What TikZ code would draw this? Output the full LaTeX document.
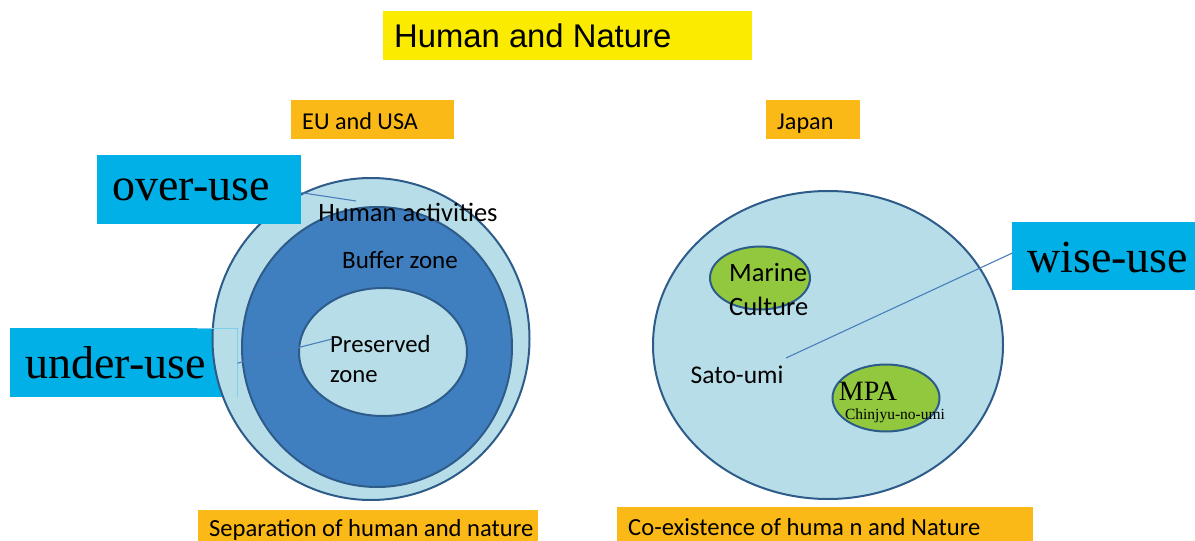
\documentclass[tikz,border=0pt]{standalone}
\usepackage{fontspec}
\setmainfont{Carlito}
\newfontfamily\arialf{Liberation Sans}
\newfontfamily\timesf{Liberation Serif}
\usetikzlibrary{shapes.geometric}
\definecolor{lightfill}{HTML}{B7DEE8}
\definecolor{ringblue}{HTML}{3F7EBF}
\definecolor{edgeblue}{HTML}{2E5C8A}
\definecolor{greenfill}{HTML}{92C83E}
\definecolor{cyanbox}{HTML}{00B0E6}
\definecolor{orangebox}{HTML}{FBB917}
\definecolor{yellowbox}{HTML}{FAEB00}
\definecolor{leader}{HTML}{4A7EBB}
\definecolor{faint}{HTML}{7FCFEA}
\begin{document}
\begin{tikzpicture}[x=1pt,y=-1pt,
  zone/.style={ellipse, draw=edgeblue, line width=2pt, inner sep=0pt},
  lbl/.style={font=\fontsize{25}{29}\selectfont, inner sep=0pt},
  tagbox/.style={fill=orangebox, anchor=north west, inner xsep=11pt, inner ysep=0pt, font=\fontsize{24.2}{27}\selectfont},
  usebox/.style={fill=cyanbox, anchor=north west, inner xsep=15pt, inner ysep=0pt, font=\timesf\fontsize{46}{50}\selectfont},
  leaderline/.style={draw=leader, line width=1.1pt}]
\useasboundingbox (0,0) rectangle (1195,541);
% title
\node[fill=yellowbox, anchor=north west, inner xsep=11pt, inner ysep=0pt, text height=36pt, text depth=13pt, font=\arialf\fontsize{32.8}{36}\selectfont] (title) at (383,11) {\makebox[347pt][l]{Human and Nature}};
% region tags
\node[tagbox, text height=29pt, text depth=10pt] (eu) at (291,100) {\makebox[141pt][l]{EU and USA}};
\node[tagbox, text height=29pt, text depth=10pt] (japan) at (766,100) {\makebox[72pt][l]{Japan}};
% under-use box lies below the left circle
\node[usebox, text height=50pt, text depth=19pt] (under) at (10,328) {\makebox[197pt][l]{under-use}};
% left circles
\node[zone, fill=lightfill, minimum width=317pt, minimum height=322pt] (outer) at (371,339) {};
\node[zone, fill=ringblue, minimum width=270pt, minimum height=280pt] (buffer) at (377,347) {};
\node[zone, fill=lightfill, minimum width=168pt, minimum height=128pt] (preserved) at (383,352) {};
\node[lbl, font=\fontsize{26.5}{30}\selectfont] (human) at (408,212) {Human activities};
\node[lbl] (bufferlbl) at (400,260) {Buffer zone};
\node[lbl, align=left, anchor=west, font=\fontsize{24.7}{30}\selectfont] (preslbl) at (330,359) {Preserved\\zone};
\draw[draw=faint, line width=0.7pt] (under.north east) ++(-40,0) -- (under.north east) -- (under.south east);
% right circles
\node[zone, fill=lightfill, minimum width=350pt, minimum height=308pt] (satoumi) at (828,345) {};
\node[zone, fill=greenfill, minimum width=100pt, minimum height=63pt] (marine) at (760,278) {};
\node[lbl, align=left, anchor=west, font=\fontsize{26.5}{34}\selectfont] (marinelbl) at (729,289) {Marine\\Culture};
\node[zone, fill=greenfill, minimum width=107pt, minimum height=67pt] (mpa) at (886,398) {};
\node[inner sep=0pt, font=\timesf\fontsize{28}{30}\selectfont] (mpalbl) at (868,391) {MPA};
\node[inner sep=0pt, font=\timesf\fontsize{15.5}{17}\selectfont] (chinjyu) at (895,416) {Chinjyu-no-umi};
\node[lbl, font=\fontsize{25.5}{29}\selectfont] (satolbl) at (737,375) {Sato-umi};
% use boxes
\node[usebox, text height=45pt, text depth=24pt] (over) at (97,155) {\makebox[174pt][l]{over-use}};
\node[usebox, text height=50pt, text depth=18pt] (wise) at (1012,222) {\makebox[200pt][l]{wise-use}};
% leader lines
\coordinate (overend) at (356,201);
\coordinate (underend) at (332,339);
\coordinate (wiseend) at (786,358);
\draw[leaderline] (over.east) ++(0,3) -- (overend);
\draw[leaderline] (under.east) ++(0,0.5) -- (underend);
\draw[leaderline] (wise.west) ++(0,-3) -- (wiseend);
% bottom tags
\node[tagbox, font=\fontsize{24.6}{27}\selectfont, text height=26pt, text depth=12pt] (separation) at (198,510) {\makebox[318pt][l]{Separation of human and nature}};
\node[tagbox, font=\fontsize{24.6}{27}\selectfont, text height=28pt, text depth=12pt] (coexist) at (617,507) {\makebox[394pt][l]{Co-existence of huma n and Nature}};
\end{tikzpicture}
\end{document}
